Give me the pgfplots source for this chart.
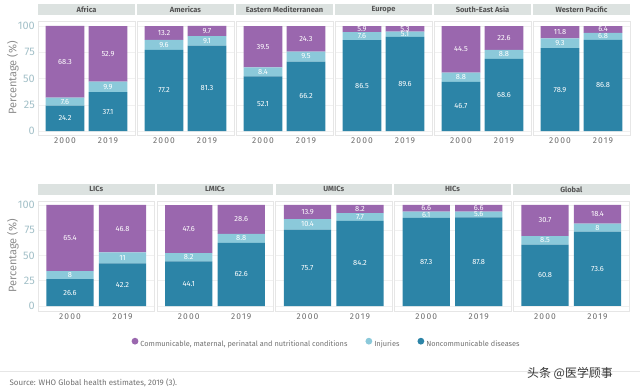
\documentclass[border=0pt]{standalone}
\usepackage{pgfplots}
\pgfplotsset{compat=1.18}
\usepackage{pgfplotstable}
\usepackage{fontspec}
\setmainfont{Fira Sans}
\newfontfamily\cjk{Noto Sans CJK SC}

\definecolor{cpurple}{HTML}{9A67AE}
\definecolor{clight}{HTML}{8BC9DA}
\definecolor{cteal}{HTML}{2C84A7}
\definecolor{stripgrey}{HTML}{DCE2E0}
\definecolor{titlegrey}{HTML}{555555}
\definecolor{ytickcol}{HTML}{A3C0C8}
\definecolor{yearcol}{HTML}{6E6E6E}
\definecolor{ylabcol}{HTML}{8C8C8C}
\definecolor{framegrey}{HTML}{E6E6E6}
\definecolor{gridgrey}{HTML}{F0F0F0}
\definecolor{legcol}{HTML}{707070}
\definecolor{wmgrey}{HTML}{333333}

% tables: x, noncommunicable, injuries, communicable
\pgfplotstableread{
x ncd inj com
0 24.2 7.6 68.3
1 37.1 9.9 52.9
}\africa
\pgfplotstableread{
x ncd inj com
0 77.2 9.6 13.2
1 81.3 9.1 9.7
}\americas
\pgfplotstableread{
x ncd inj com
0 52.1 8.4 39.5
1 66.2 9.5 24.3
}\emed
\pgfplotstableread{
x ncd inj com
0 86.5 7.6 5.9
1 89.6 5.1 5.3
}\europe
\pgfplotstableread{
x ncd inj com
0 46.7 8.8 44.5
1 68.6 8.8 22.6
}\sea
\pgfplotstableread{
x ncd inj com
0 78.9 9.3 11.8
1 86.8 6.8 6.4
}\wpac
\pgfplotstableread{
x ncd inj com
0 26.6 8 65.4
1 42.2 11 46.8
}\lics
\pgfplotstableread{
x ncd inj com
0 44.1 8.2 47.6
1 62.6 8.8 28.6
}\lmics
\pgfplotstableread{
x ncd inj com
0 75.7 10.4 13.9
1 84.2 7.7 8.2
}\umics
\pgfplotstableread{
x ncd inj com
0 87.3 6.1 6.6
1 87.8 5.6 6.6
}\hics
\pgfplotstableread{
x ncd inj com
0 60.8 8.5 30.7
1 73.6 8 18.4
}\glob

\pgfplotsset{
  panel/.style={
    scale only axis, ybar stacked, bar width=0.9, clip=false,
    xtick={0,1}, xticklabels={2000,2019},
    ytick={0,25,50,75,100}, yticklabels={},
    major tick length=0pt,
    axis line style={draw=framegrey, line width=0.5bp},
    ymajorgrids, grid style={draw=gridgrey, line width=0.5bp},
    /pgf/number format/assume math mode=true,
    xticklabel style={font=\fontsize{8.5}{10}\selectfont\addfontfeature{LetterSpace=14}, text=yearcol, inner sep=0pt, yshift=-3bp},
    yticklabel style={font=\fontsize{11}{12}\selectfont, text=ytickcol, inner sep=0pt, xshift=-3bp},
    title style={at={(0.5,1)}, anchor=south, fill=stripgrey, inner sep=0pt,
      minimum height=11bp, font=\fontsize{7.5}{8}\selectfont\bfseries, text=titlegrey},
    nodes near coords, point meta=explicit symbolic,
    every node near coord/.style={font=\fontsize{7.5}{8}\selectfont, text=white, anchor=center, inner sep=0pt},
  },
  toprow/.style={width=97bp, height=114bp, ymin=-3.8, ymax=104.8, xmin=-0.628, xmax=1.628,
    title style={minimum width=97bp}},
  botrow/.style={width=116.5bp, height=110bp, ymin=-4.95, ymax=103.96, xmin=-0.61, xmax=1.61,
    title style={minimum width=116.5bp}},
  first/.style={yticklabels={0,25,50,75,100},
    ylabel={Percentage (\%)},
    every axis y label/.style={at={(rel axis cs:0,0.5)}, xshift=-25bp, rotate=90, anchor=center,
      font=\fontsize{11}{12}\selectfont, text=ylabcol}},
}

\newcommand\panel[4]{%
\begin{axis}[panel, #4, at={(#1)}, anchor=south west, title={#2}]
\addplot[fill=cteal, draw=none, legend image code/.code={\fill[cteal] (3bp,0.65ex) circle (3.4bp);}] table[x=x, y=ncd, meta=ncd]{#3};
\addplot[fill=clight, draw=none, legend image code/.code={\fill[clight] (3bp,0.65ex) circle (3.4bp);}] table[x=x, y=inj, meta=inj]{#3};
\addplot[fill=cpurple, draw=none, legend image code/.code={\fill[cpurple] (3bp,0.65ex) circle (3.4bp);}] table[x=x, y=com, meta=com]{#3};
\end{axis}}

\begin{document}
\begin{tikzpicture}
\useasboundingbox (0bp,0bp) rectangle (640bp,392bp);

\panel{38bp,257bp}{Africa}{\africa}{toprow, first}
\panel{137bp,257bp}{Americas}{\americas}{toprow}
\panel{236bp,257bp}{Eastern Mediterranean}{\emed}{toprow}
\panel{335bp,257bp}{Europe}{\europe}{toprow}
\panel{434bp,257bp}{South-East Asia}{\sea}{toprow}
\panel{533bp,257bp}{Western Pacific}{\wpac}{toprow}

\panel{38bp,81bp}{LICs}{\lics}{botrow, first}
\panel{156.75bp,81bp}{LMICs}{\lmics}{botrow}
\panel{275.5bp,81bp}{UMICs}{\umics}{botrow}
\panel{394.25bp,81bp}{HICs}{\hics}{botrow}
\panel{513bp,81bp}{Global}{\glob}{botrow,
  legend entries={Noncommunicable diseases, Injuries, {Communicable, maternal, perinatal and nutritional conditions}},
  reverse legend,
  legend columns=3,
  legend style={at={(-1.6,-0.30)}, anchor=center, draw=none, fill=none,
    font=\fontsize{7.4}{8}\selectfont, text=legcol,
    /tikz/every even column/.append style={column sep=16bp}}}

\draw[framegrey, line width=0.8bp] (0bp,21bp) -- (640bp,21bp);
\node[anchor=west, font=\fontsize{8}{9}\selectfont, text=legcol] at (6bp,9bp) {Source: WHO Global health estimates, 2019 (3).};
\node[anchor=center, font=\cjk\fontsize{12}{13}\selectfont, text=wmgrey] at (570bp,19bp) {头条 @医学顾事};
\end{tikzpicture}
\end{document}
